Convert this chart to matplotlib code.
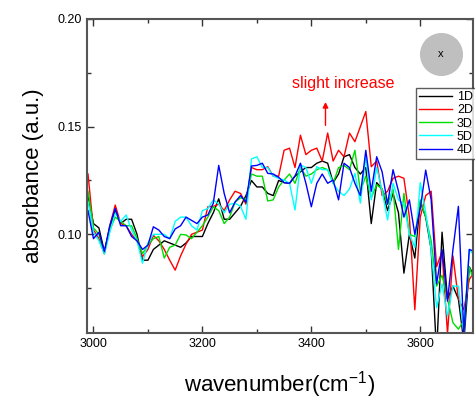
import matplotlib.pyplot as plt
from matplotlib.ticker import MultipleLocator

plt.rcParams['font.family'] = ['Liberation Sans', 'DejaVu Sans']
plt.rcParams['mathtext.fontset'] = 'custom'
plt.rcParams['mathtext.rm'] = 'Liberation Sans'
plt.rcParams['mathtext.it'] = 'Liberation Sans'

# wavenumber grid (cm-1), step 10
wn = list(range(2990, 3701, 10))

d1 = [0.118, 0.105, 0.103, 0.092, 0.103, 0.111, 0.105, 0.107, 0.107, 0.100,
      0.088, 0.088, 0.093, 0.095, 0.097, 0.096, 0.095, 0.094, 0.096, 0.099,
      0.099, 0.099, 0.105, 0.110, 0.1165, 0.107, 0.107, 0.110, 0.113, 0.118,
      0.125, 0.122, 0.122, 0.119, 0.118, 0.125, 0.124, 0.1237, 0.127, 0.129,
      0.131, 0.131, 0.133, 0.134, 0.133, 0.124, 0.128, 0.136, 0.137, 0.131,
      0.128, 0.131, 0.105, 0.124, 0.121, 0.111, 0.119, 0.110, 0.082, 0.100,
      0.089, 0.115, 0.108, 0.093, 0.045, 0.101, 0.070, 0.076, 0.070, 0.050,
      0.085, 0.080]
d2 = [0.128, 0.102, 0.098, 0.091, 0.104, 0.1136, 0.105, 0.104, 0.100, 0.097,
      0.0896, 0.093, 0.0995, 0.097, 0.093, 0.088, 0.0834, 0.090, 0.0955, 0.100,
      0.101, 0.102, 0.1128, 0.113, 0.114, 0.111, 0.116, 0.120, 0.119, 0.114,
      0.131, 0.130, 0.130, 0.1314, 0.127, 0.127, 0.139, 0.140, 0.131, 0.146,
      0.137, 0.139, 0.140, 0.134, 0.147, 0.134, 0.139, 0.136, 0.147, 0.143,
      0.150, 0.157, 0.1314, 0.134, 0.118, 0.120, 0.126, 0.127, 0.126, 0.108,
      0.065, 0.108, 0.118, 0.120, 0.085, 0.092, 0.054, 0.090, 0.070, 0.065,
      0.079, 0.083]
d3 = [0.120, 0.103, 0.100, 0.091, 0.102, 0.108, 0.106, 0.104, 0.104, 0.098,
      0.091, 0.095, 0.098, 0.099, 0.089, 0.094, 0.095, 0.100, 0.0997, 0.098,
      0.101, 0.104, 0.108, 0.1128, 0.111, 0.105, 0.108, 0.115, 0.117, 0.116,
      0.128, 0.127, 0.127, 0.1155, 0.116, 0.122, 0.1252, 0.128, 0.1237, 0.131,
      0.127, 0.128, 0.130, 0.131, 0.130, 0.1237, 0.131, 0.132, 0.130, 0.139,
      0.120, 0.127, 0.117, 0.123, 0.121, 0.114, 0.121, 0.093, 0.119, 0.100,
      0.099, 0.116, 0.108, 0.097, 0.076, 0.081, 0.070, 0.059, 0.056, 0.060,
      0.085, 0.077]
d5 = [0.115, 0.101, 0.097, 0.091, 0.101, 0.110, 0.106, 0.109, 0.102, 0.097,
      0.0866, 0.096, 0.100, 0.100, 0.100, 0.098, 0.106, 0.108, 0.108, 0.104,
      0.102, 0.111, 0.112, 0.116, 0.114, 0.110, 0.114, 0.1144, 0.113, 0.107,
      0.135, 0.136, 0.131, 0.131, 0.127, 0.126, 0.1252, 0.1237, 0.1113, 0.1322,
      0.131, 0.1237, 0.1314, 0.130, 0.130, 0.1237, 0.120, 0.118, 0.121, 0.1283,
      0.1145, 0.136, 0.116, 0.131, 0.120, 0.1067, 0.1237, 0.116, 0.114, 0.100,
      0.094, 0.124, 0.110, 0.093, 0.066, 0.077, 0.062, 0.076, 0.076, 0.054,
      0.093, 0.090]
d4 = [0.111, 0.098, 0.101, 0.092, 0.104, 0.112, 0.104, 0.104, 0.099, 0.097,
      0.093, 0.095, 0.1035, 0.102, 0.099, 0.098, 0.1025, 0.104, 0.108, 0.1065,
      0.105, 0.108, 0.109, 0.1144, 0.132, 0.119, 0.110, 0.115, 0.118, 0.115,
      0.1317, 0.132, 0.133, 0.1283, 0.128, 0.1265, 0.124, 0.1237, 0.127, 0.133,
      0.1237, 0.1128, 0.1237, 0.128, 0.1237, 0.1252, 0.116, 0.133, 0.131, 0.1237,
      0.118, 0.139, 0.120, 0.136, 0.129, 0.114, 0.130, 0.120, 0.108, 0.116,
      0.100, 0.112, 0.1298, 0.116, 0.077, 0.093, 0.069, 0.093, 0.113, 0.054,
      0.093, 0.092]

series = [('1D', d1, 'black'), ('2D', d2, 'red'), ('3D', d3, '#00dd00'),
          ('5D', d5, 'cyan'), ('4D', d4, 'blue')]

fig = plt.figure(figsize=(4.75, 4.01), dpi=100)
ax = fig.add_axes([0.183, 0.170, 0.813, 0.783])

for name, vals, col in series:
    ax.plot(wn, vals, color=col, lw=1.0, label=name)

ax.set_xlim(2988, 3697)
ax.set_ylim(0.0543, 0.20)
ax.xaxis.set_major_locator(MultipleLocator(200))
ax.xaxis.set_minor_locator(MultipleLocator(100))
ax.yaxis.set_minor_locator(MultipleLocator(0.025))
ax.set_yticks([0.10, 0.15, 0.20])
ax.set_yticklabels(['0.10', '0.15', '0.20'])
ax.tick_params(which='both', direction='in', top=True, right=True, labelsize=9,
               color='#333333', width=1)
ax.tick_params(which='major', length=5)
ax.tick_params(which='minor', length=3)
for s in ax.spines.values():
    s.set_color('#555555')
    s.set_linewidth(1.5)

ax.set_xlabel('wavenumber(cm$^{-1}$)', fontsize=16, labelpad=14)
ax.set_ylabel('absorbance (a.u.)', fontsize=16, labelpad=10)

leg = ax.legend(loc='upper left', bbox_to_anchor=(0.853, 0.78), fontsize=9,
                frameon=True, fancybox=False, handlelength=2.6, labelspacing=0.1,
                borderpad=0.25, handletextpad=0.4, borderaxespad=0)
leg.get_frame().set_edgecolor('#333333')
leg.get_frame().set_linewidth(1.0)

ax.scatter([0.917], [0.888], s=900, color='#bfbfbf', transform=ax.transAxes,
           zorder=5, clip_on=False)
ax.text(0.917, 0.888, 'x', transform=ax.transAxes, ha='center', va='center',
        fontsize=8, zorder=6)

ax.text(3458, 0.1702, 'slight increase', color='red', fontsize=11.5,
        ha='center', va='center')
ax.annotate('', xy=(3426, 0.1627), xytext=(3426, 0.1493),
            arrowprops=dict(arrowstyle='-|>', color='red', lw=1,
                            mutation_scale=8))

fig.savefig('out.png', dpi=100)
